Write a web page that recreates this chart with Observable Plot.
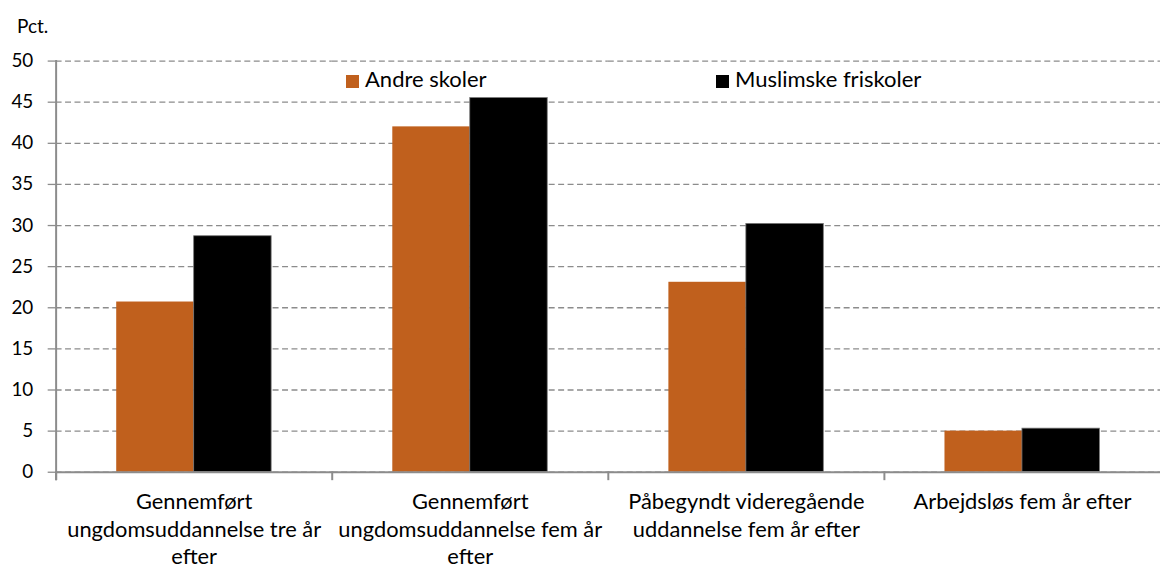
<!DOCTYPE html>
<html>
<head>
<meta charset="utf-8">
<script src="https://cdn.jsdelivr.net/npm/d3@7"></script>
<script src="https://cdn.jsdelivr.net/npm/@observablehq/plot@0.6"></script>
<style>
  html, body { margin: 0; padding: 0; background: #fff; overflow: hidden; }
  #wrap { position: relative; width: 1160px; height: 573px; overflow: hidden; font-family: Lato, "Open Sans", sans-serif; color: #000; }
  #pct { position: absolute; left: 17px; top: 15px; font-size: 19px; line-height: 22px; }
  .leg { position: absolute; top: 66px; font-size: 22px; line-height: 26px; white-space: nowrap; }
  .sw { position: absolute; width: 13px; height: 13px; }
  #chart { position: absolute; left: 0; top: 0; }
</style>
</head>
<body>
<div id="wrap">
  <div id="chart"></div>
  <div id="pct">Pct.</div>
  <div id="legend"></div>
</div>
<script>
const categories = [
  "Gennemført ungdomsuddannelse tre år efter",
  "Gennemført ungdomsuddannelse fem år efter",
  "Påbegyndt videregående uddannelse fem år efter",
  "Arbejdsløs fem år efter"
];
const tickLabels = [
  "Gennemført\nungdomsuddannelse tre år\nefter",
  "Gennemført\nungdomsuddannelse fem år\nefter",
  "Påbegyndt videregående\nuddannelse fem år efter",
  "Arbejdsløs fem år efter"
];
const series = ["Andre skoler", "Muslimske friskoler"];
const andreSkoler = [20.7, 42.0, 23.1, 5.0];
const muslimskeFriskoler = [28.7, 45.5, 30.2, 5.3];
const yTicks = [0, 5, 10, 15, 20, 25, 30, 35, 40, 45, 50];
const colors = ["#C0601D", "#000000"];

const data = [];
categories.forEach((c, i) => {
  data.push({cat: c, series: series[0], value: andreSkoler[i]});
  data.push({cat: c, series: series[1], value: muslimskeFriskoler[i]});
});

const W = 1168, H = 573, mT = 61, mB = 98, mL = 56, mR = 0;
const innerH = H - mT - mB;
const labelOf = new Map(categories.map((c, i) => [c, tickLabels[i]]));

const chart = Plot.plot({
  width: W, height: H,
  marginTop: mT, marginBottom: mB, marginLeft: mL, marginRight: mR,
  style: {fontFamily: "Lato, 'Open Sans', sans-serif", fontSize: "19px", color: "#000", background: "#fff", overflow: "visible"},
  fx: {domain: categories, padding: 0, label: null},
  x: {domain: series, paddingInner: 0, paddingOuter: 0.76, axis: null},
  y: {domain: [0, 50], label: null},
  color: {domain: series, range: colors},
  marks: [
    Plot.gridY(yTicks, {stroke: "#8c8c8c", strokeOpacity: 1, strokeWidth: 1.3, strokeDasharray: "6,3.5"}),
    Plot.barY(data, {fx: "cat", x: "series", y: "value", fill: "series",
      stroke: d => d.series === series[1] ? "#777" : "none", strokeWidth: 0.8}),
    Plot.ruleY([0], {stroke: "#8c8c8c", strokeWidth: 2}),
    Plot.frame({anchor: "left", stroke: "#8c8c8c", strokeWidth: 2, insetTop: innerH, insetBottom: -7}),
    Plot.frame({facet: "super", anchor: "left", stroke: "#8c8c8c", strokeWidth: 2, insetBottom: -7}),
    Plot.axisY(yTicks, {tickSize: 8, tickPadding: 15, stroke: "#8c8c8c", strokeWidth: 1.3, fill: "#000", fontSize: 19, label: null}),
    Plot.axisFx({anchor: "bottom", tickSize: 0, tickPadding: 17, fontSize: 22, lineHeight: 1.27, fill: "#000",
      tickFormat: d => labelOf.get(d), label: null})
  ]
});
document.getElementById("chart").appendChild(chart);

const legend = document.getElementById("legend");
const legendX = [346, 716];
series.forEach((s, i) => {
  const sw = document.createElement("div");
  sw.className = "sw";
  sw.style.left = legendX[i] + "px";
  sw.style.top = "75px";
  sw.style.background = colors[i];
  legend.appendChild(sw);
  const t = document.createElement("div");
  t.className = "leg";
  t.style.left = (legendX[i] + 19) + "px";
  t.textContent = s;
  legend.appendChild(t);
});
</script>
</body>
</html>
